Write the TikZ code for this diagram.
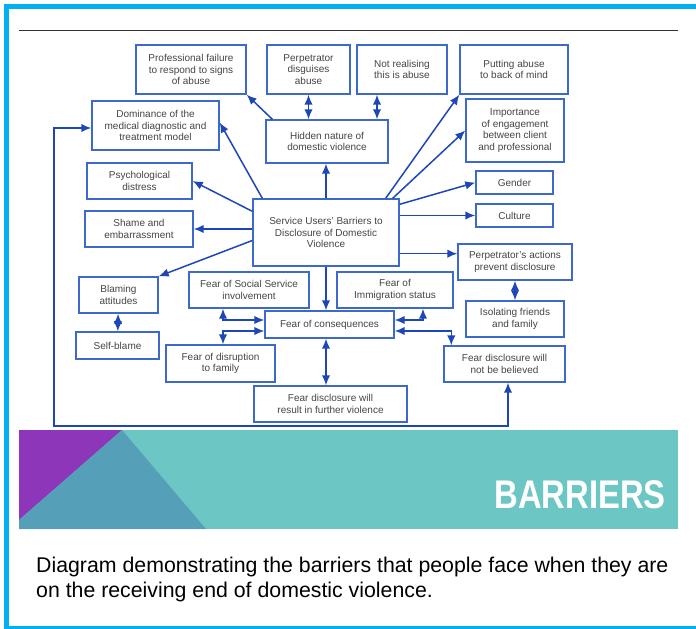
\documentclass[tikz,border=0pt]{standalone}
\usepackage{fontspec}
\setmainfont{Liberation Sans}
\usetikzlibrary{arrows.meta}
\definecolor{frameblue}{HTML}{00B0F0}
\definecolor{boxblue}{HTML}{3D69CC}
\definecolor{linkblue}{HTML}{1D46B8}
\definecolor{txtgray}{HTML}{454545}
\definecolor{bannerteal}{HTML}{6CC7C4}
\definecolor{bannerpurple}{HTML}{8E36B9}
\definecolor{bannersteel}{HTML}{569FB8}

\begin{document}
\begin{tikzpicture}[x=1pt, y=-1pt,
    box/.style={draw=boxblue, line width=1.4pt, fill=white, inner sep=0pt, align=center, text=txtgray, font=\fontsize{10}{11.5}\selectfont},
    conn/.style={color=linkblue, line width=1.5pt},
    >={Latex[length=10pt,width=8.5pt]}]
    \useasboundingbox (0,0) rectangle (696,629);
    % frame and rule
    \fill[frameblue] (4,4) rectangle (696,9);
    \fill[frameblue] (4,4) rectangle (9,629);
    \fill[frameblue] (4,626) rectangle (696,629);
    \draw[black!80, line width=1pt] (19,30.5) -- (678,30.5);

    \node[box, minimum width=110pt, minimum height=49pt] (prof) at (191,69.5) {Professional failure\\to respond to signs\\of abuse};
    \node[box, minimum width=83pt, minimum height=49pt] (perp) at (308.5,69.5) {Perpetrator\\disguises\\abuse};
    \node[box, minimum width=90pt, minimum height=49pt] (notreal) at (402,69.5) {Not realising\\this is abuse};
    \node[box, minimum width=108pt, minimum height=49pt] (putting) at (514,69.5) {Putting abuse\\to back of mind};
    \node[box, minimum width=127pt, minimum height=49pt] (dominance) at (155.5,125.5) {Dominance of the\\medical diagnostic and\\treatment model};
    \node[box, minimum width=122pt, minimum height=43pt] (hidden) at (327,141.5) {Hidden nature of\\domestic violence};
    \node[box, minimum width=98pt, minimum height=63pt] (engage) at (515,130.5) {Importance\\of engagement\\between client\\and professional};
    \node[box, minimum width=105pt, minimum height=36pt] (psych) at (139.5,181) {Psychological\\distress};
    \node[box, minimum width=77pt, minimum height=23pt] (gender) at (514.5,182.5) {Gender};
    \node[box, minimum width=108pt, minimum height=36pt] (shame) at (139,229) {Shame and\\embarrassment};
    \node[box, minimum width=77pt, minimum height=23pt] (culture) at (514.5,215.5) {Culture};
    \node[box, minimum width=146pt, minimum height=67pt] (barriers) at (326,232.5) {Service Users’ Barriers to\\Disclosure of Domestic\\Violence};
    \node[box, minimum width=114pt, minimum height=36pt] (actions) at (515,262) {Perpetrator’s actions\\prevent disclosure};
    \node[box, minimum width=79pt, minimum height=36pt] (blaming) at (118.5,295) {Blaming\\attitudes};
    \node[box, minimum width=120pt, minimum height=36pt] (social) at (249,290) {Fear of Social Service\\involvement};
    \node[box, minimum width=116pt, minimum height=36pt] (immigration) at (395,290) {Fear of\\Immigration status};
    \node[box, minimum width=98pt, minimum height=36pt] (isolating) at (515,319) {Isolating friends\\and family};
    \node[box, minimum width=129pt, minimum height=27pt] (consequences) at (329.5,324.5) {Fear of consequences};
    \node[box, minimum width=83pt, minimum height=27pt] (selfblame) at (117.5,345.5) {Self-blame};
    \node[box, minimum width=109pt, minimum height=37pt] (disruption) at (220.5,363.5) {Fear of disruption\\to family};
    \node[box, minimum width=121pt, minimum height=36pt] (believed) at (504.5,364) {Fear disclosure will\\not be believed};
    \node[box, minimum width=153pt, minimum height=36pt] (further) at (330.5,404) {Fear disclosure will\\result in further violence};

    \coordinate (corner) at (54,426);
    \coordinate (notrealfoot) at ([xshift=50pt]hidden.north);
    \coordinate (socialfoot) at ([xshift=-26pt]social.south);
    \coordinate (immigfoot) at ([xshift=28pt]immigration.south);
    \coordinate (actionsin) at ([yshift=13pt]barriers.south east);

    \path [->, conn] ([xshift=10pt]barriers.north west) edge ([yshift=3pt]dominance.east);
    \path [->, conn] ([xshift=7pt]hidden.north west) edge (prof.south east);
    \path [<->, conn] (perp.south) edge (perp.south |- hidden.north);
    \path [<->, conn] (notrealfoot |- notreal.south) edge (notrealfoot);
    \path [->, conn] (barriers.north) edge (barriers.north |- hidden.south);
    \path [->, conn] ([yshift=-13pt]barriers.north west) edge (psych.east);
    \path [->, conn] (barriers.west |- shame.east) edge (shame.east);
    \path [->, conn] ([yshift=-8pt]barriers.west) edge (blaming.north east);
    \path [->, conn] ([xshift=-14pt]barriers.north east) edge (putting.south west);
    \path [->, conn] ([xshift=-7pt]barriers.north east) edge (engage.west);
    \path [->, conn] ([yshift=-6pt]barriers.north east) edge (gender.west);
    \path [->, conn] (barriers.east |- culture.west) edge (culture.west);
    \path [->, conn] (actionsin) edge (actionsin -| actions.west);
    \path [<->, conn] (actions) edge (isolating);
    \path [<->, conn] (blaming) edge (selfblame);
    \path [->, conn] (barriers.south) edge (barriers.south |- consequences.north);
    \path [<->, conn] (barriers.south |- consequences.south) edge (barriers.south |- further.north);
    \draw [<->, conn] (socialfoot) |- ([yshift=4.5pt]consequences.west);
    \draw [<->, conn] ([yshift=-6.5pt]consequences.west) -| (socialfoot |- disruption.north);
    \draw [<->, conn] (immigfoot) |- ([yshift=4.5pt]consequences.east);
    \draw [<->, conn] ([yshift=-6.5pt]consequences.east) -| ([xshift=8pt]believed.north west);
    \draw [<->, conn] ([yshift=-2.5pt]dominance.west) -| (corner) -| ([xshift=3.5pt]believed.south);

    % banner
    \fill[bannerteal] (19,430) rectangle (678,529);
    \fill[bannerpurple] (19,430) -- (122,430) -- (19,520) -- cycle;
    \fill[bannersteel] (122,430) -- (206,529) -- (19,529) -- (19,520) -- cycle;
    \node[anchor=east, text=white, inner sep=0pt, xscale=0.82, font=\fontsize{40}{40}\selectfont\bfseries] (title) at (666,494.5) {BARRIERS};

    \node[anchor=base west, inner sep=0pt, align=left, font=\fontsize{21.3}{25}\selectfont] (caption) at (36,597) {Diagram demonstrating the barriers that people face when they are\\on the receiving end of domestic violence.};
\end{tikzpicture}
\end{document}
